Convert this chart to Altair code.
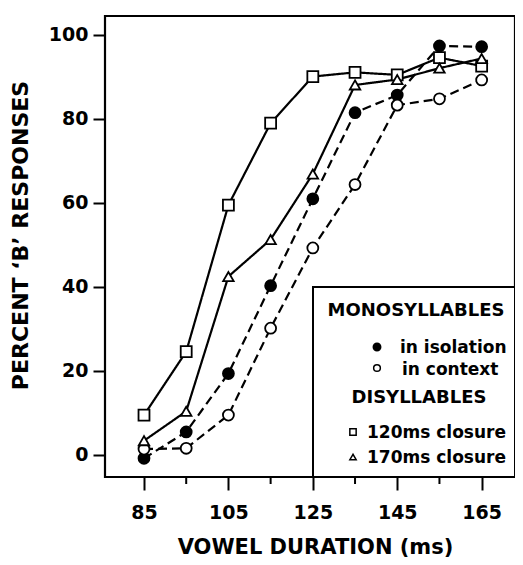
import altair as alt
import pandas as pd

# ---- data ----
durations = [85, 95, 105, 115, 125, 135, 145, 155, 165]
isolation = [-0.8, 5.5, 19.4, 40.3, 61.0, 81.5, 85.7, 97.4, 97.2]
context = [1.4, 1.6, 9.5, 30.2, 49.3, 64.4, 83.3, 84.8, 89.3]
closure120 = [9.5, 24.6, 59.5, 79.0, 90.1, 91.1, 90.5, 94.6, 92.6]
closure170 = [3.4, 10.4, 42.5, 51.3, 66.9, 88.1, 89.4, 92.1, 94.4]

major_ticks = [85, 105, 125, 145, 165]
minor_ticks = [95, 115, 135, 155]
y_ticks = [0, 20, 40, 60, 80, 100]

legend_head1 = "MONOSYLLABLES"
legend_head2 = "DISYLLABLES"
lbl_iso = "in isolation"
lbl_ctx = "in context"
lbl_120 = "120ms closure"
lbl_170 = "170ms closure"

x_title = "VOWEL DURATION (ms)"
y_title = "PERCENT \u2018B\u2019 RESPONSES"

# ---- tables ----
series = [
    ("isolation", isolation, "circle", "black", [9, 5]),
    ("context", context, "circle", "white", [9, 5]),
    ("c120", closure120, "square", "white", [1, 0]),
    ("c170", closure170, "triangle-up", "white", [1, 0]),
]

W, H = 410, 461
FONT = "DejaVu Sans"

xscale = alt.Scale(domain=[75.76, 172.9], nice=False, zero=False)
yscale = alt.Scale(domain=[-5.24, 104.52], nice=False, zero=False)

base_x = alt.X(
    "duration:Q", scale=xscale, title=x_title,
    axis=alt.Axis(values=major_ticks, tickSize=13, tickWidth=2, tickColor="black",
                  domain=False, grid=False, labelFont=FONT, labelFontSize=19,
                  labelFontWeight="bold", labelColor="black", labelPadding=13,
                  titleFont=FONT, titleFontSize=21, titleFontWeight="bold",
                  titleColor="black", titleBaseline="alphabetic", titleY=76,
                  titleX=210, titleAlign="center"),
)
base_y = alt.Y(
    "percent:Q", scale=yscale, title=y_title,
    axis=alt.Axis(values=y_ticks, tickSize=12, tickWidth=2, tickColor="black",
                  domain=False, grid=False, labelFont=FONT, labelFontSize=19,
                  labelFontWeight="bold", labelColor="black", labelPadding=5,
                  titleFont=FONT, titleFontSize=22, titleFontWeight="bold",
                  titleColor="black", titleBaseline="alphabetic", titleX=-78,
                  titleY=219, titleAlign="center", titleAngle=270),
)

layers = []
for name, vals, shape, fill, dash in series:
    df = pd.DataFrame({"duration": durations, "percent": vals})
    layers.append(
        alt.Chart(df).mark_line(color="black", strokeWidth=2.2, strokeDash=dash)
        .encode(x=base_x, y=base_y)
    )
for name, vals, shape, fill, dash in series:
    df = pd.DataFrame({"duration": durations, "percent": vals})
    layers.append(
        alt.Chart(df).mark_point(shape=shape, filled=True, fill=fill, stroke="black",
                                 strokeWidth=1.8, opacity=1,
                                 size=120 if shape != "triangle-up" else 110)
        .encode(x=base_x, y=base_y)
    )

# minor x ticks below the frame
minor_df = pd.DataFrame({"duration": minor_ticks})
layers.append(
    alt.Chart(minor_df).mark_rule(color="black", strokeWidth=2)
    .encode(x=alt.X("duration:Q", scale=xscale), y=alt.value(H), y2=alt.value(H + 7))
)

# ---- legend box ----
one = alt.Data(values=[{"k": 1}])
LX0, LX1, LY0, LY1 = 208, W, 271, H
layers.append(
    alt.Chart(one).mark_rect(fill="white", stroke="black", strokeWidth=2)
    .encode(x=alt.value(LX0), x2=alt.value(LX1), y=alt.value(LY0), y2=alt.value(LY1))
)

def ltext(txt, x, y, size, align="left"):
    return alt.Chart(one).mark_text(
        text=txt, font=FONT, fontSize=size, fontWeight="bold", color="black",
        align=align, baseline="middle"
    ).encode(x=alt.value(x), y=alt.value(y))

def lsym(shape, fill, x, y, size):
    return alt.Chart(one).mark_point(
        shape=shape, filled=True, fill=fill, stroke="black", strokeWidth=1.5,
        opacity=1, size=size
    ).encode(x=alt.value(x), y=alt.value(y))

layers += [
    ltext(legend_head1, 311, 295, 18, "center"),
    lsym("circle", "black", 272, 331, 55),
    ltext(lbl_iso, 295, 332, 17),
    lsym("circle", "white", 272, 352, 45),
    ltext(lbl_ctx, 297, 354, 17),
    ltext(legend_head2, 314, 382, 18, "center"),
    lsym("square", "white", 248, 416, 40),
    ltext(lbl_120, 262, 417, 17),
    lsym("triangle-up", "white", 248, 441, 40),
    ltext(lbl_170, 262, 442, 17),
]

chart = alt.layer(*layers).properties(
    width=W, height=H,
    autosize=alt.AutoSizeParams(type="none"),
    padding={"left": 97, "top": 8, "right": 0, "bottom": 80},
    background="white",
).configure_view(stroke="black", strokeWidth=2.2)

chart.save("out.html", embed_options={"renderer": "svg", "actions": False})
